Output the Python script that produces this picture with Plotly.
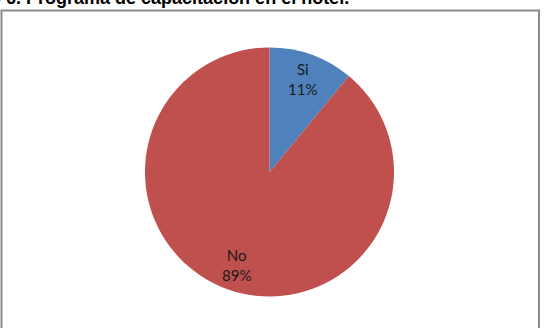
import numpy as np
import plotly.graph_objects as go

labels = ["Si", "No"]
values = [11, 89]
colors = ["#4F81BD", "#C0504D"]
title_text = "Gráfico 6. Programa de capacitación en el hotel."

W, H = 546, 328
cx, cy, R = 269.5, 172.0, 124.5

fig = go.Figure(go.Pie(
    labels=labels, values=values,
    marker=dict(colors=colors, line=dict(width=0)),
    sort=False, direction="clockwise", rotation=0,
    textinfo="none", hoverinfo="label+percent",
    showlegend=False,
    domain=dict(x=[(cx - R) / W, (cx + R) / W],
                y=[(H - cy - R) / H, (H - cy + R) / H]),
))

# labels placed at mid-angle of each slice
total = sum(values)
cum = np.cumsum([0] + values[:-1])
annotations = []
for lab, v, c0 in zip(labels, values, cum):
    mid = (c0 + v / 2) / total * 2 * np.pi
    r = 0.79 * R
    px = cx + r * np.sin(mid)
    py = cy - r * np.cos(mid)
    annotations.append(dict(
        x=px / W, y=1 - py / H, xref="paper", yref="paper",
        text=f"{lab}<br>{round(v / total * 100)}%", showarrow=False,
        font=dict(family="Lato, Liberation Sans, sans-serif", size=15, color="#1a1a1a"),
        xanchor="center", yanchor="middle", align="center",
    ))

annotations.append(dict(
    x=351 / W, y=1 - 10.5 / H, xref="paper", yref="paper",
    text=f"<b>{title_text}</b>", showarrow=False,
    font=dict(family="Liberation Sans, Arial, sans-serif", size=18, color="#000000"),
    xanchor="right", yanchor="bottom",
))

fig.update_layout(
    width=W, height=H,
    margin=dict(l=0, r=0, t=0, b=0),
    paper_bgcolor="white", plot_bgcolor="white",
    annotations=annotations,
    shapes=[dict(type="rect", xref="paper", yref="paper",
                 x0=1.5 / W, x1=539 / W, y0=-0.05, y1=1 - 10.5 / H,
                 line=dict(color="#8c8c8c", width=2), fillcolor="rgba(0,0,0,0)")],
)

fig.write_html("out.html")
